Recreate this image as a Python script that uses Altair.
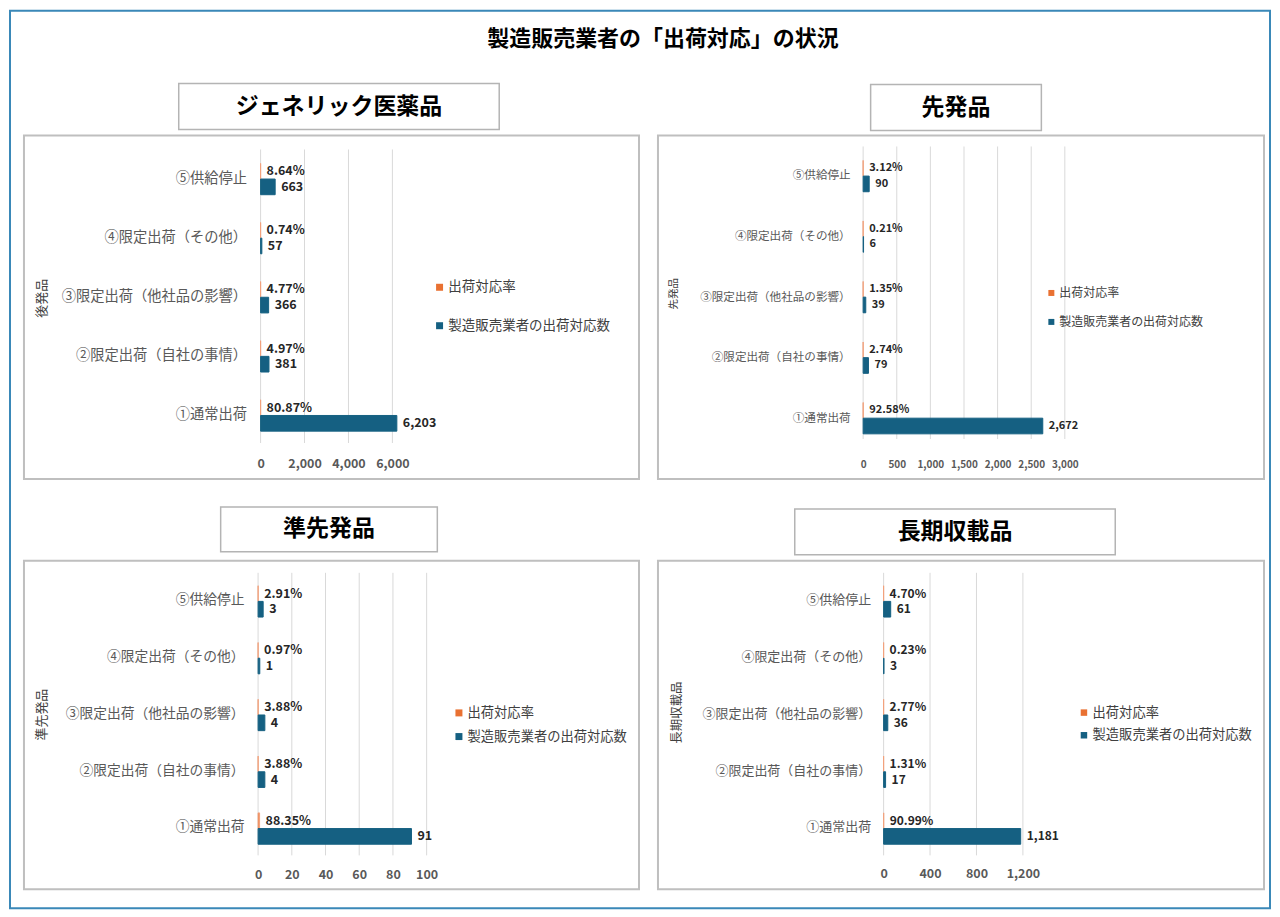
import altair as alt
import pandas as pd

FONT = "Noto Sans CJK JP"
ORANGE = "#E97132"
ORANGE_LINE = "#F2A27C"
BLUE = "#156082"

MAIN_TITLE = "製造販売業者の「出荷対応」の状況"
CATS = ["⑤供給停止", "④限定出荷（その他）", "③限定出荷（他社品の影響）",
        "②限定出荷（自社の事情）", "①通常出荷"]
SERIES = ["出荷対応率", "製造販売業者の出荷対応数"]

# values in CATS order (⑤ ... ①)
generic_rate = [0.0864, 0.0074, 0.0477, 0.0497, 0.8087]
generic_count = [663, 57, 366, 381, 6203]
generic_ticks = [0, 2000, 4000, 6000]

brand_rate = [0.0312, 0.0021, 0.0135, 0.0274, 0.9258]
brand_count = [90, 6, 39, 79, 2672]
brand_ticks = [0, 500, 1000, 1500, 2000, 2500, 3000]

quasi_rate = [0.0291, 0.0097, 0.0388, 0.0388, 0.8835]
quasi_count = [3, 1, 4, 4, 91]
quasi_ticks = [0, 20, 40, 60, 80, 100]

long_rate = [0.0470, 0.0023, 0.0277, 0.0131, 0.9099]
long_count = [61, 3, 36, 17, 1181]
long_ticks = [0, 400, 800, 1200]

# layout (pixels, relative to each panel box)
L_TL = dict(W=616, H=344, dmax=7000, x0=237, x1=391, b0=14, b1=310, pad=0.47, g0=14, g1=308,
            xlab=329, xfs=12.5, yfs=14.3, ylp=14, vfs=12.5, at=(18, 163), atfs=13,
            lx=409.5, lc=152, lsp=37, lfs=13.5, lsym=49,
            box=(155, -52, 476, -6), tfs=23)
L_TR = dict(W=607, H=344, dmax=3000, x0=205.5, x1=407.5, b0=10.7, b1=313.8, pad=0.47, g0=11, g1=304,
            xlab=330, xfs=10, yfs=11.6, ylp=13, vfs=11, at=(16, 158.5), atfs=10.5,
            lx=388, lc=157.7, lsp=29, lfs=12, lsym=36,
            box=(213, -51, 384, -5), tfs=23)
L_BL = dict(W=616, H=329, dmax=100, x0=234.5, x1=403.3, b0=11, b1=295.4, pad=0.49, g0=12, g1=295,
            xlab=314, xfs=12.5, yfs=13.8, ylp=14, vfs=12.5, at=(18, 154), atfs=13,
            lx=429, lc=152.3, lsp=23, lfs=13.3, lsym=49,
            box=(197, -54, 414, -9), tfs=23)
L_BR = dict(W=607, H=329, dmax=1400, x0=226, x1=388.75, b0=11, b1=295.4, pad=0.49, g0=12, g1=295,
            xlab=313, xfs=12.5, yfs=13, ylp=13, vfs=12, at=(18.6, 152), atfs=12.5,
            lx=420, lc=152, lsp=22, lfs=13.3, lsym=42,
            box=(137, -52, 458, -6), tfs=23)

one = pd.DataFrame({"a": [0]})


def panel(title, axis_title, rates, counts, ticks, L, extra=None):
    rows = []
    for c, r, n in zip(CATS, rates, counts):
        rows.append({"cat": c, "series": SERIES[0], "value": r, "label": f"{r * 100:.2f}%"})
        rows.append({"cat": c, "series": SERIES[1], "value": n, "label": f"{n:,}"})
    df = pd.DataFrame(rows)

    xscale = alt.Scale(domain=[0, L["dmax"]], range=[L["x0"], L["x1"]], nice=False, zero=True)
    yscale = alt.Scale(domain=CATS, range=[L["b0"], L["b1"]],
                       paddingInner=L["pad"], paddingOuter=L["pad"] / 2)
    oscale = alt.Scale(domain=SERIES, paddingInner=0, paddingOuter=0)

    xaxis = alt.Axis(values=ticks, format=",.0f", title=None, grid=False, domain=False,
                     ticks=False, labelFont=FONT, labelFontSize=L["xfs"], labelFontWeight="bold",
                     labelColor="#595959", labelFlush=False, labelOverlap=False,
                     labelPadding=L["xlab"] - L["g1"] - L["xfs"] / 2,
                     offset=-(L["H"] - L["g1"]))
    yaxis = alt.Axis(title=None, domain=False, ticks=False, grid=False, labelFont=FONT,
                     labelFontSize=L["yfs"], labelColor="#595959",
                     labelPadding=L["ylp"], offset=-L["x0"], labelLimit=400)

    grid = alt.Chart(pd.DataFrame({"t": ticks})).mark_rule(color="#D9D9D9", strokeWidth=1).encode(
        x=alt.X("t:Q", scale=xscale, axis=xaxis),
        y=alt.value(L["g0"]), y2=alt.value(L["g1"]),
    )

    bars = alt.Chart(df).mark_bar(strokeWidth=1).encode(
        x=alt.X("value:Q", scale=xscale, axis=xaxis),
        y=alt.Y("cat:N", scale=yscale, axis=yaxis),
        yOffset=alt.YOffset("series:N", scale=oscale),
        color=alt.Color("series:N", scale=alt.Scale(domain=SERIES, range=[ORANGE, BLUE]),
                        legend=alt.Legend(orient="none", legendX=L["lx"],
                                          legendY=L["lc"] - L["lfs"] / 2, title=None,
                                          symbolType="square", symbolSize=L["lsym"],
                                          symbolStrokeWidth=0, labelFont=FONT,
                                          labelFontSize=L["lfs"], labelColor="#404040",
                                          labelOffset=2, rowPadding=L["lsp"] - L["lfs"],
                                          padding=0, labelLimit=400)),
        stroke=alt.Stroke("series:N", scale=alt.Scale(domain=SERIES, range=[ORANGE_LINE, BLUE]),
                          legend=None),
    )

    text = alt.Chart(df).mark_text(align="left", baseline="middle", dx=6, font=FONT,
                                   fontSize=L["vfs"], fontWeight="bold", color="#262626").encode(
        x=alt.X("value:Q", scale=xscale, axis=xaxis),
        y=alt.Y("cat:N", scale=yscale, axis=yaxis),
        yOffset=alt.YOffset("series:N", scale=oscale),
        text="label:N",
    )

    bx, by, bx2, by2 = L["box"]
    tbox = alt.Chart(one).mark_rect(fill="white", stroke="#B4B4B4", strokeWidth=1.5).encode(
        x=alt.value(bx), x2=alt.value(bx2), y=alt.value(by), y2=alt.value(by2))
    ttext = alt.Chart(one).mark_text(text=title, font=FONT, fontSize=L["tfs"], fontWeight="bold",
                                     color="#000000", align="center", baseline="middle").encode(
        x=alt.value((bx + bx2) / 2), y=alt.value((by + by2) / 2))
    atext = alt.Chart(one).mark_text(text=axis_title, font=FONT, fontSize=L["atfs"], angle=270,
                                     color="#404040", align="center", baseline="middle").encode(
        x=alt.value(L["at"][0]), y=alt.value(L["at"][1]))

    layers = [grid, bars, text, tbox, ttext, atext]
    if extra:
        layers += extra
    return alt.layer(*layers).properties(width=L["W"], height=L["H"])


border = alt.Chart(one).mark_rect(fill=None, stroke="#3A88B8", strokeWidth=2).encode(
    x=alt.value(-14), x2=alt.value(1248), y=alt.value(-125), y2=alt.value(774))
main_title = alt.Chart(one).mark_text(text=MAIN_TITLE, font=FONT, fontSize=22, fontWeight="bold",
                                      color="#000000", align="center", baseline="middle").encode(
    x=alt.value(640), y=alt.value(-97))

tl = panel("ジェネリック医薬品", "後発品", generic_rate, generic_count, generic_ticks, L_TL,
           extra=[border, main_title])
tr = panel("先発品", "先発品", brand_rate, brand_count, brand_ticks, L_TR)
bl = panel("準先発品", "準先発品", quasi_rate, quasi_count, quasi_ticks, L_BL)
br = panel("長期収載品", "長期収載品", long_rate, long_count, long_ticks, L_BR)

chart = alt.concat(tl, tr, bl, br, columns=2, spacing={"row": 82, "column": 19},
                   bounds="flush", align="all").resolve_scale(
    color="independent", stroke="independent"
).resolve_legend(color="independent").properties(
    padding=0, background="white", autosize=alt.AutoSizeParams(type="pad")
).configure_view(stroke="#BFBFBF", strokeWidth=2)

chart.save("out.html", embed_options={"renderer": "svg", "actions": False})
